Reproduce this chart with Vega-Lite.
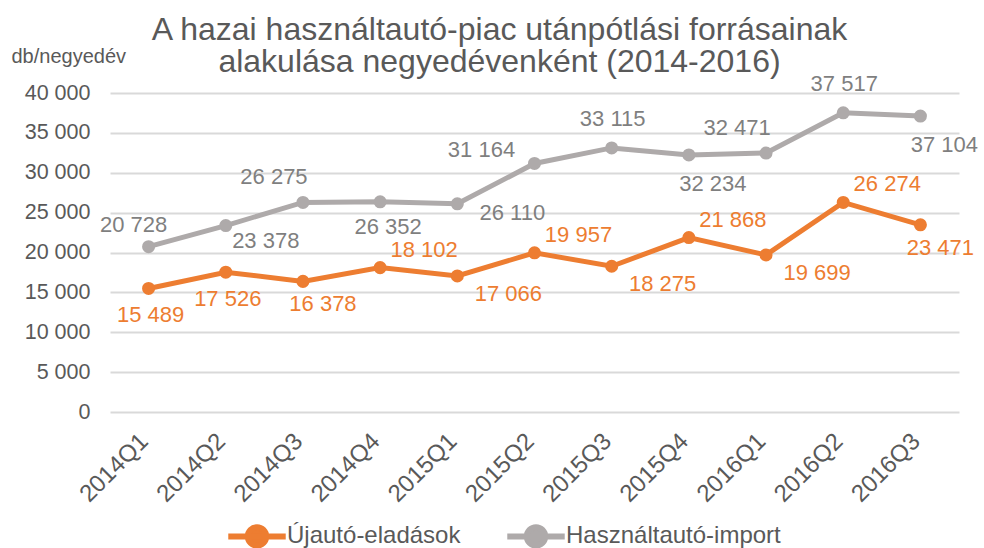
{
  "$schema": "https://vega.github.io/schema/vega-lite/v6.json",
  "autosize": {"type": "none"},
  "width": 849,
  "height": 319,
  "padding": {"left": 110, "top": 93, "right": 25, "bottom": 136},
  "background": "white",
  "config": {
    "font": "Liberation Sans",
    "view": {"stroke": null},
    "locale": {"number": {"decimal": ",", "thousands": " ", "grouping": [3], "currency": ["", ""]}}
  },
  "title": {
    "text": ["A hazai használtautó-piac utánpótlási forrásainak", "alakulása negyedévenként (2014-2016)"],
    "fontSize": 32,
    "fontWeight": "normal",
    "color": "#595959",
    "anchor": "middle",
    "dx": -35,
    "offset": -33,
    "lineHeight": 32
  },
  "datasets": {
    "rows": [
      {"q": "2014Q1", "series": "Újautó-eladások", "value": 15489},
      {"q": "2014Q2", "series": "Újautó-eladások", "value": 17526},
      {"q": "2014Q3", "series": "Újautó-eladások", "value": 16378},
      {"q": "2014Q4", "series": "Újautó-eladások", "value": 18102},
      {"q": "2015Q1", "series": "Újautó-eladások", "value": 17066},
      {"q": "2015Q2", "series": "Újautó-eladások", "value": 19957},
      {"q": "2015Q3", "series": "Újautó-eladások", "value": 18275},
      {"q": "2015Q4", "series": "Újautó-eladások", "value": 21868},
      {"q": "2016Q1", "series": "Újautó-eladások", "value": 19699},
      {"q": "2016Q2", "series": "Újautó-eladások", "value": 26274},
      {"q": "2016Q3", "series": "Újautó-eladások", "value": 23471},
      {"q": "2014Q1", "series": "Használtautó-import", "value": 20728},
      {"q": "2014Q2", "series": "Használtautó-import", "value": 23378},
      {"q": "2014Q3", "series": "Használtautó-import", "value": 26275},
      {"q": "2014Q4", "series": "Használtautó-import", "value": 26352},
      {"q": "2015Q1", "series": "Használtautó-import", "value": 26110},
      {"q": "2015Q2", "series": "Használtautó-import", "value": 31164},
      {"q": "2015Q3", "series": "Használtautó-import", "value": 33115},
      {"q": "2015Q4", "series": "Használtautó-import", "value": 32234},
      {"q": "2016Q1", "series": "Használtautó-import", "value": 32471},
      {"q": "2016Q2", "series": "Használtautó-import", "value": 37517},
      {"q": "2016Q3", "series": "Használtautó-import", "value": 37104}
    ]
  },
  "data": {"name": "rows"},
  "encoding": {
    "x": {
      "field": "q", "type": "ordinal", "sort": null,
      "scale": {"type": "point", "padding": 0.5},
      "axis": {
        "title": null, "labelAngle": -45, "labelFontSize": 24, "labelColor": "#595959",
        "ticks": false, "domain": false, "grid": false, "labelPadding": 17, "labelOffset": -13
      }
    },
    "y": {
      "field": "value", "type": "quantitative",
      "scale": {"domain": [0, 40000]},
      "axis": {
        "title": "db/negyedév", "titleAngle": 0, "titleAlign": "left", "titleBaseline": "alphabetic",
        "titleX": -99, "titleY": -31, "titleFontSize": 20, "titleFontWeight": "normal", "titleColor": "#595959",
        "values": [0, 5000, 10000, 15000, 20000, 25000, 30000, 35000, 40000],
        "format": ",d", "labelFontSize": 21.5, "labelColor": "#595959", "labelPadding": 20,
        "ticks": false, "domain": false, "gridColor": "#D9D9D9", "gridWidth": 2
      }
    }
  },
  "layer": [
    {
      "mark": {"type": "line", "strokeWidth": 5},
      "encoding": {
        "color": {
          "field": "series", "type": "nominal",
          "scale": {"domain": ["Újautó-eladások", "Használtautó-import"], "range": ["#ED7D31", "#AEAAAA"]},
          "legend": {
            "title": null, "orient": "none", "direction": "horizontal",
            "legendX": 115, "legendY": 411,
            "symbolType": "M-1,0L1,0M-0.32,0A0.32,0.32,0,1,0,0.32,0A0.32,0.32,0,1,0,-0.32,0Z",
            "symbolSize": 3300, "symbolStrokeWidth": 6,
            "labelFontSize": 24, "labelColor": "#595959", "labelOffset": -2, "labelLimit": 400, "columnPadding": 34,
            "encode": {"symbols": {"update": {"fill": {"scale": "color", "field": "value"}, "stroke": {"scale": "color", "field": "value"}, "fillOpacity": {"value": 1}}}}
          }
        }
      }
    },
    {
      "mark": {"type": "point", "filled": true, "size": 170, "opacity": 1},
      "encoding": {
        "color": {"field": "series", "type": "nominal", "legend": null}
      }
    },
    {
      "transform": [{"filter": {"field": "series", "equal": "Használtautó-import"}}, {"filter": {"field": "q", "oneOf": ["2014Q1"]}}],
      "mark": {"type": "text", "fontSize": 22, "color": "#7F7F7F", "dx": -15, "dy": -22},
      "encoding": {"text": {"field": "value", "type": "quantitative", "format": ",d"}}
    },
    {
      "transform": [{"filter": {"field": "series", "equal": "Használtautó-import"}}, {"filter": {"field": "q", "oneOf": ["2014Q3", "2016Q1"]}}],
      "mark": {"type": "text", "fontSize": 22, "color": "#7F7F7F", "dx": -29, "dy": -25},
      "encoding": {"text": {"field": "value", "type": "quantitative", "format": ",d"}}
    },
    {
      "transform": [{"filter": {"field": "series", "equal": "Használtautó-import"}}, {"filter": {"field": "q", "oneOf": ["2015Q2"]}}],
      "mark": {"type": "text", "fontSize": 22, "color": "#7F7F7F", "dx": -53, "dy": -13},
      "encoding": {"text": {"field": "value", "type": "quantitative", "format": ",d"}}
    },
    {
      "transform": [{"filter": {"field": "series", "equal": "Használtautó-import"}}, {"filter": {"field": "q", "oneOf": ["2015Q3", "2016Q2"]}}],
      "mark": {"type": "text", "fontSize": 22, "color": "#7F7F7F", "dx": 1, "dy": -29},
      "encoding": {"text": {"field": "value", "type": "quantitative", "format": ",d"}}
    },
    {
      "transform": [{"filter": {"field": "series", "equal": "Használtautó-import"}}, {"filter": {"field": "q", "oneOf": ["2014Q2"]}}],
      "mark": {"type": "text", "fontSize": 22, "color": "#7F7F7F", "dx": 40, "dy": 15},
      "encoding": {"text": {"field": "value", "type": "quantitative", "format": ",d"}}
    },
    {
      "transform": [{"filter": {"field": "series", "equal": "Használtautó-import"}}, {"filter": {"field": "q", "oneOf": ["2015Q4", "2016Q3"]}}],
      "mark": {"type": "text", "fontSize": 22, "color": "#7F7F7F", "dx": 24, "dy": 29},
      "encoding": {"text": {"field": "value", "type": "quantitative", "format": ",d"}}
    },
    {
      "transform": [{"filter": {"field": "series", "equal": "Használtautó-import"}}, {"filter": {"field": "q", "oneOf": ["2014Q4"]}}],
      "mark": {"type": "text", "fontSize": 22, "color": "#7F7F7F", "dx": 8, "dy": 25},
      "encoding": {"text": {"field": "value", "type": "quantitative", "format": ",d"}}
    },
    {
      "transform": [{"filter": {"field": "series", "equal": "Használtautó-import"}}, {"filter": {"field": "q", "oneOf": ["2015Q1"]}}],
      "mark": {"type": "text", "fontSize": 22, "color": "#7F7F7F", "dx": 55, "dy": 9},
      "encoding": {"text": {"field": "value", "type": "quantitative", "format": ",d"}}
    },
    {
      "transform": [{"filter": {"field": "series", "equal": "Újautó-eladások"}}, {"filter": {"field": "q", "oneOf": ["2014Q1", "2014Q2"]}}],
      "mark": {"type": "text", "fontSize": 22, "color": "#ED7D31", "dx": 2, "dy": 27},
      "encoding": {"text": {"field": "value", "type": "quantitative", "format": ",d"}}
    },
    {
      "transform": [{"filter": {"field": "series", "equal": "Újautó-eladások"}}, {"filter": {"field": "q", "oneOf": ["2014Q3", "2016Q3"]}}],
      "mark": {"type": "text", "fontSize": 22, "color": "#ED7D31", "dx": 20, "dy": 23},
      "encoding": {"text": {"field": "value", "type": "quantitative", "format": ",d"}}
    },
    {
      "transform": [{"filter": {"field": "series", "equal": "Újautó-eladások"}}, {"filter": {"field": "q", "oneOf": ["2015Q1", "2015Q3", "2016Q1"]}}],
      "mark": {"type": "text", "fontSize": 22, "color": "#ED7D31", "dx": 51, "dy": 18},
      "encoding": {"text": {"field": "value", "type": "quantitative", "format": ",d"}}
    },
    {
      "transform": [{"filter": {"field": "series", "equal": "Újautó-eladások"}}, {"filter": {"field": "q", "oneOf": ["2014Q4", "2015Q2", "2015Q4", "2016Q2"]}}],
      "mark": {"type": "text", "fontSize": 22, "color": "#ED7D31", "dx": 44, "dy": -18},
      "encoding": {"text": {"field": "value", "type": "quantitative", "format": ",d"}}
    }
  ]
}
